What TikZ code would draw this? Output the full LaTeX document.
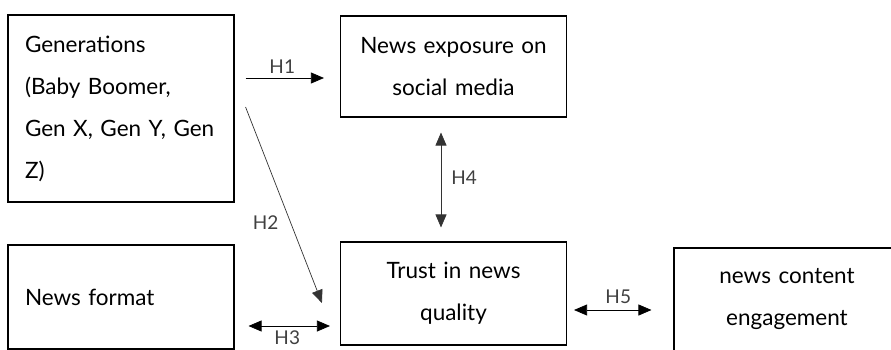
\documentclass[tikz,border=0pt]{standalone}
\usepackage{fontspec}
\setmainfont{Lato}
\usetikzlibrary{arrows.meta,positioning}

\tikzset{
  box/.style={draw, line width=1.1pt, minimum width=226pt, text width=192pt,
    inner xsep=17pt, inner ysep=0pt, font=\fontsize{22.5}{42}\selectfont},
  leftbox/.style={box, align=left},
  midbox/.style={box, align=center},
  arr/.style={-{Triangle[length=13pt,width=11pt]}, line width=0.7pt},
  dbl/.style={{Triangle[length=13pt,width=11pt]}-{Triangle[length=13pt,width=11pt]}, line width=0.7pt},
  hyp/.style={font=\fontsize{19}{21}\selectfont, text=black!75, inner sep=2pt}
}

\begin{document}
\begin{tikzpicture}[x=1pt, y=-1pt]
  \useasboundingbox (0,0) rectangle (891,350);
  \clip (0,0) rectangle (891,350);

  % Define nodes
  \node[leftbox, minimum height=187pt] (gen) at (121,108.5)
    {Generations\\(Baby Boomer,\\Gen X, Gen Y, Gen\\Z)};
  \node[midbox, minimum height=101pt] (expo) at (453.5,66.5)
    {News exposure on\\social media};
  \node[leftbox, minimum height=104pt] (fmt) at (121,297) {News format};
  \node[midbox, minimum height=103pt] (trust) at (453.5,293.5)
    {Trust in news\\quality};
  \node[midbox, minimum height=103pt] (eng) at (787,299.5)
    {news content\\engagement};

  % Connect the nodes
  \draw[arr, shorten <=11pt, shorten >=16pt] (gen.east |- 0,78) -- (expo.west |- 0,78)
    node[hyp, midway, above=2pt, xshift=-5pt] {H1};
  \draw[arr, black!80] ([xshift=11pt, yshift=1.5pt]gen.east) -- ([xshift=-18pt, yshift=-9.5pt]trust.west)
    node[hyp, pos=0.59, left=10pt] {H2};
  \draw[dbl, shorten <=14pt, shorten >=10pt] (fmt.east |- 0,326) -- (trust.west |- 0,326)
    node[hyp, midway, below=2.5pt] {H3};
  \draw[dbl, black!80, shorten <=15pt, shorten >=14pt] ([xshift=-12.5pt]expo.south) -- ([xshift=-12.5pt]trust.north)
    node[hyp, midway, right=8pt, yshift=2pt] {H4};
  \draw[dbl, shorten <=7pt, shorten >=22pt] (trust.east |- 0,310) -- (eng.west |- 0,310)
    node[hyp, midway, above=4pt, xshift=-2pt] {H5};
\end{tikzpicture}
\end{document}
